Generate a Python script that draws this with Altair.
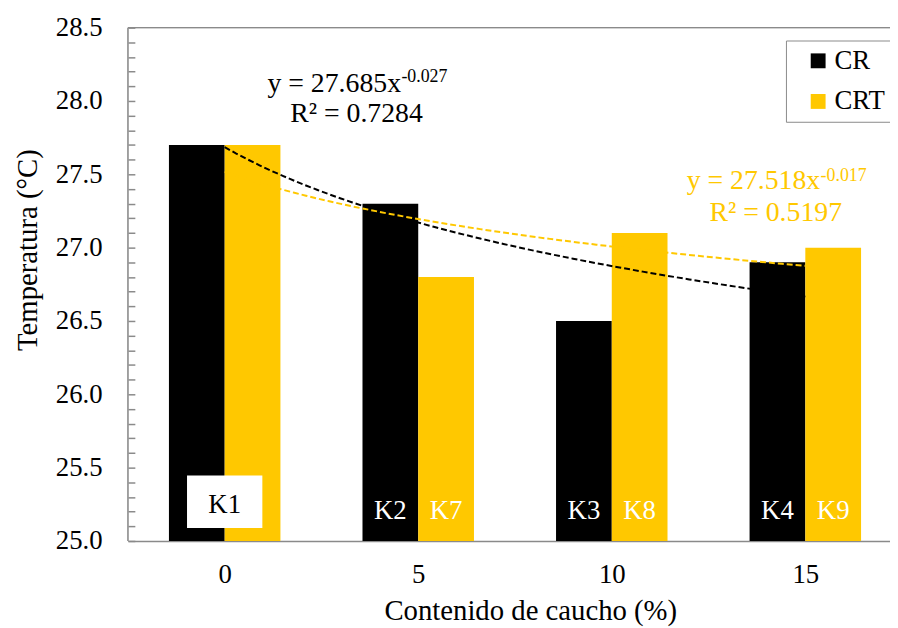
import altair as alt
import pandas as pd

# ---------------- data ----------------
categories = ["0", "5", "10", "15"]
positions = [1, 2, 3, 4]
cr_values = [27.7, 27.3, 26.5, 26.9]
crt_values = [27.7, 26.8, 27.1, 27.0]
cr_labels = ["K1", "K2", "K3", "K4"]
crt_labels = ["K1", "K7", "K8", "K9"]
series_names = ["CR", "CRT"]
series_colors = ["#000000", "#FFC800"]
y_min, y_max = 25.0, 28.5
y_major_step = 0.5
y_minor_step = 0.1
eq_cr = ["y = 27.685x", "-0.027", "R² = 0.7284"]
eq_crt = ["y = 27.518x", "-0.017", "R² = 0.5197"]
x_title = "Contenido de caucho (%)"
y_title = "Temperatura (°C)"

# ---------------- style ----------------
FONT = "Liberation Serif, Times New Roman, Times, serif"
GREY = "#8a8a8a"
GOLD = series_colors[1]
BW = 0.288                      # bar width in category units
W, H = 769, 518
UNIT_PX = 195.3
X_MIN, X_MAX = 0.5, 0.5 + W / UNIT_PX

rows = []
for p, c, v1, v2, l1, l2 in zip(positions, categories, cr_values, crt_values, cr_labels, crt_labels):
    rows.append(dict(pos=p, cat=c, series=series_names[0], value=v1, label=l1))
    rows.append(dict(pos=p, cat=c, series=series_names[1], value=v2, label=l2))
df = pd.DataFrame(rows)

n_minor = int(round((y_max - y_min) / y_minor_step))
y_ticks = [round(y_min + i * y_minor_step, 1) for i in range(n_minor + 1)]
inv = round(1 / y_major_step)
is_major = f"abs(datum.value*{inv} - round(datum.value*{inv})) < 0.001"
y_label_expr = f"{is_major} ? format(datum.value, '.1f') : ''"
x_label_expr = "[" + ",".join(f"'{c}'" for c in categories) + f"][datum.value - {positions[0]}]"

xs = alt.Scale(domain=[X_MIN, X_MAX], nice=False, zero=False)
ys = alt.Scale(domain=[y_min, y_max], nice=False, zero=False)

x_axis = alt.Axis(values=positions, tickCount=len(positions) + 2, labelExpr=x_label_expr,
                  ticks=False, tickSize=0,
                  domainColor=GREY, domainWidth=1.5, labelFont=FONT, labelFontSize=27,
                  labelColor="black", labelPadding=21, labelFlush=False, grid=False,
                  title=x_title, titleFont=FONT, titleFontSize=29, titleFontWeight="normal",
                  titleColor="black", titleX=406, titleY=79, titleBaseline="alphabetic")
y_axis = alt.Axis(values=y_ticks, tickCount=len(y_ticks) + 2, labelExpr=y_label_expr,
                  offset=-7, tickSize=7,
                  tickColor=GREY, tickWidth=1.5, domain=False, labelFont=FONT,
                  labelFontSize={"condition": {"test": is_major, "value": 27}, "value": 0},
                  labelColor="black", labelPadding=26, labelOverlap=False,
                  grid=False, title=y_title, titleFont=FONT, titleFontSize=29,
                  titleFontWeight="normal", titleColor="black", titleX=-108, titleY=224,
                  titleBaseline="middle", titleAngle=-90)

color_scale = alt.Scale(domain=series_names, range=series_colors)

base = alt.Chart(df)

bars = base.transform_calculate(
    x0=f"datum.pos + (datum.series == '{series_names[0]}' ? {-BW} : 0)",
    x1=f"datum.x0 + {BW}",
).mark_bar().encode(
    x=alt.X("x0:Q", scale=xs, axis=x_axis),
    x2="x1:Q",
    y=alt.Y("value:Q", scale=ys, axis=y_axis),
    y2=alt.datum(y_min),
    color=alt.Color("series:N", scale=color_scale,
                    legend=alt.Legend(orient="none", legendX=664, legendY=13, title=None,
                                      labelFont=FONT, labelFontSize=27, labelColor="black",
                                      symbolType="square", symbolSize=225,
                                      symbolStrokeWidth=0, strokeColor=GREY,
                                      fillColor="white", padding=7, rowPadding=13,
                                      labelOffset=3, symbolOffset=12)),
)

# bar labels
labels = base.transform_filter(f"datum.label != '{cr_labels[0]}'").transform_calculate(
    xc=f"datum.pos + (datum.series == '{series_names[0]}' ? {-BW / 2} : {BW / 2})"
).mark_text(font=FONT, fontSize=27, color="white", baseline="alphabetic").encode(
    x=alt.X("xc:Q", title=x_title),
    y=alt.datum(25.149),
    text="label:N",
)

k1 = base.transform_filter(
    f"datum.label == '{cr_labels[0]}' && datum.series == '{series_names[0]}'"
).transform_calculate(bx0="datum.pos - 0.1946", bx1="datum.pos + 0.1946")
k1_box = k1.mark_rect(color="white").encode(
    x=alt.X("bx0:Q", title=x_title), x2="bx1:Q", y=alt.datum(25.088), y2=alt.datum(25.446))
k1_text = k1.mark_text(font=FONT, fontSize=27, color="black", baseline="alphabetic").encode(
    x=alt.X("pos:Q", title=x_title), y=alt.datum(25.189), text="label:N")

# power trend lines
lines = base.transform_regression(
    "pos", "value", method="pow", groupby=["series"], extent=[positions[0], positions[-1]]
).mark_line(strokeDash=[6, 3], strokeWidth=2).encode(
    x=alt.X("pos:Q", title=x_title),
    y=alt.Y("value:Q", title=y_title),
    stroke=alt.Stroke("series:N", scale=color_scale, legend=None),
)


def note(text, x, y, color, size, align):
    return alt.Chart(pd.DataFrame({"t": [text]})).mark_text(
        font=FONT, fontSize=size, color=color, align=align, baseline="alphabetic"
    ).encode(x=alt.datum(x), y=alt.datum(y), text="t:N")


notes = [
    note(eq_cr[0], 1.911, 28.061, "black", 28, "right"),
    note(eq_cr[1], 1.913, 28.128, "black", 18, "left"),
    note(eq_cr[2], 1.681, 27.858, "black", 28, "center"),
    note(eq_crt[0], 4.077, 27.399, GOLD, 28, "right"),
    note(eq_crt[1], 4.079, 27.453, GOLD, 18, "left"),
    note(eq_crt[2], 3.847, 27.182, GOLD, 28, "center"),
]

top_rule = alt.Chart(pd.DataFrame({"y": [y_max]})).mark_rule(
    color=GREY, strokeWidth=1.5).encode(y=alt.Y("y:Q", title=y_title))
left_rule = alt.Chart(pd.DataFrame({"x": [X_MIN]})).mark_rule(
    color=GREY, strokeWidth=1.5).encode(x=alt.X("x:Q", title=x_title))

chart = alt.layer(
    bars, k1_box, k1_text, labels, lines, *notes, top_rule, left_rule
).properties(
    width=W, height=H,
    padding={"left": 121, "top": 17, "right": 0, "bottom": 84},
    autosize=alt.AutoSizeParams(type="none"),
).configure_view(stroke=None).configure_axisY(labelOverlap=False).configure(background="white")

chart.save("out.html", embed_options={"renderer": "svg", "actions": False})
